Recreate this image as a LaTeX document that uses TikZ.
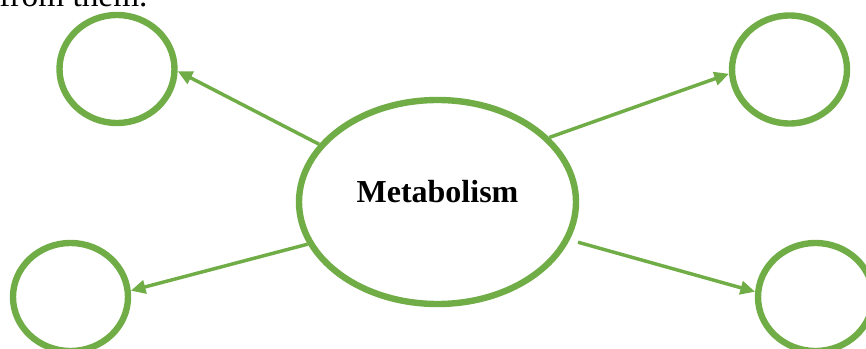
\documentclass[tikz,border=0pt]{standalone}
\usepackage{fontspec}
\setmainfont{Liberation Serif}
\usetikzlibrary{shapes.geometric,arrows.meta}
\definecolor{leafgreen}{RGB}{112,173,71}
\tikzset{every picture/.style={line width=0.75pt}}
\tikzset{
	bubble/.style={draw=leafgreen, line width=4.8pt, ellipse, inner sep=0pt, minimum width=86.25pt, minimum height=81pt},
	hub/.style={draw=leafgreen, line width=4.8pt, ellipse, inner sep=0pt, minimum width=207.75pt, minimum height=153pt},
	link/.style={draw=leafgreen, line width=2.6pt, -{Triangle[length=11pt,width=10pt]}}}

\begin{document}
\begin{tikzpicture}[x=0.75pt,y=0.75pt,yscale=-1,xscale=1]
	\clip (0,0) rectangle (866,349);

	% Text Node
	\node [anchor=base east, inner sep=0pt, font=\fontsize{25}{30}\selectfont] (cuttext) at (148,7) {from them.};

	%Shape: Ellipse [hub]
	\node [hub] (metab) at (437.5,202) {};
	% Text Node
	\node [inner sep=0pt, font=\fontsize{24}{29}\selectfont\bfseries] (metabtext) at (437.5,192) {Metabolism};

	%Shape: Circle [top left]
	\node [bubble] (tl) at (117,69) {};
	%Shape: Circle [top right]
	\node [bubble] (tr) at (789.5,69.5) {};
	%Shape: Circle [bottom left]
	\node [bubble] (bl) at (70.5,297) {};
	%Shape: Circle [bottom right]
	\node [bubble] (br) at (815.5,297) {};

	%Straight Lines
	\draw [link] (metab.154) -- (tl.358);
	\draw [link] (metab.30) -- (tr.184);
	\draw [link] (metab.198) -- (bl.6);
	\draw [link, shorten <=6.5pt] (metab.344) -- (br.175);

\end{tikzpicture}
\end{document}
